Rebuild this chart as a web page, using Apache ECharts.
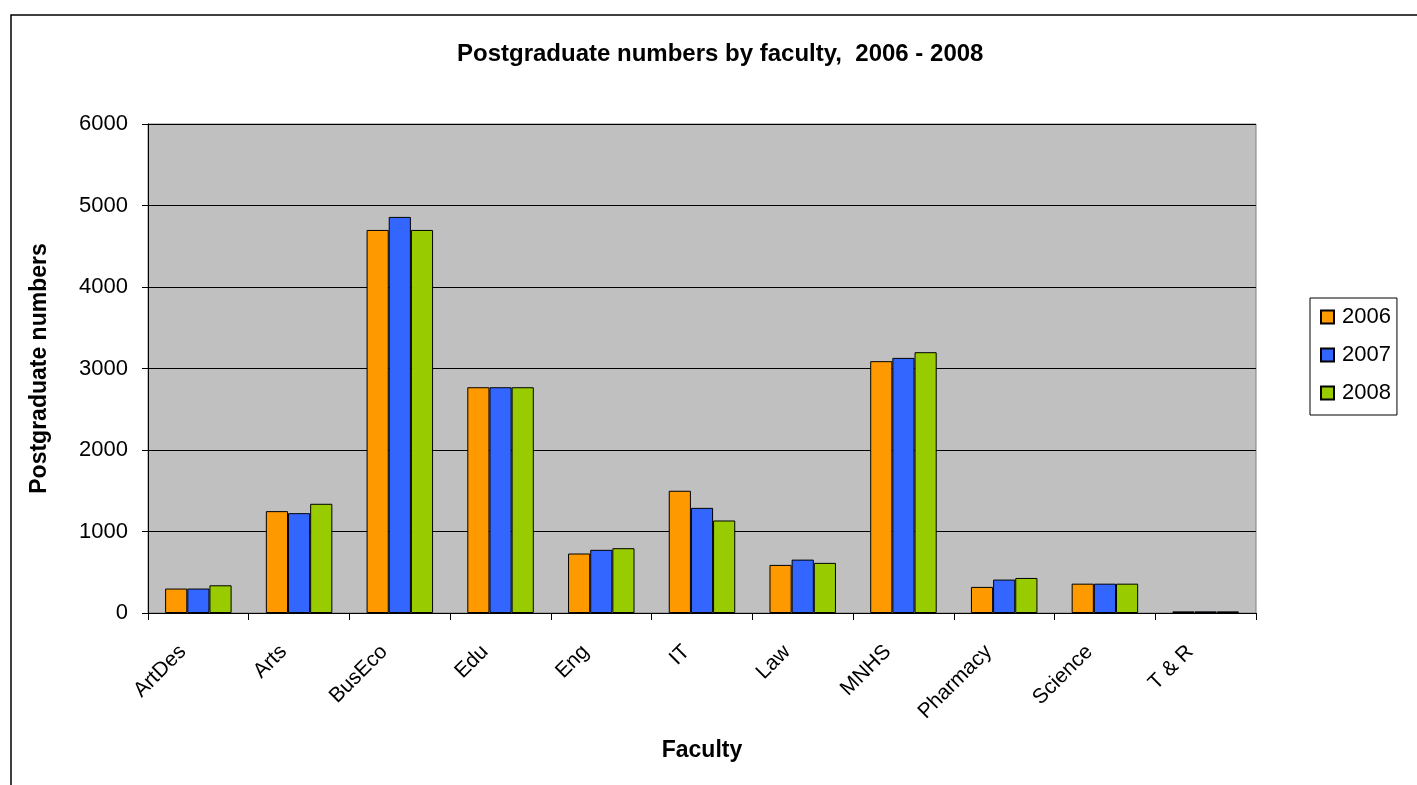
<!DOCTYPE html>
<html>
<head>
<meta charset="utf-8">
<title>Postgraduate numbers by faculty</title>
<script src="https://cdn.jsdelivr.net/npm/echarts@6/dist/echarts.min.js"></script>
<style>
	html, body { margin: 0; padding: 0; background: #fff; }
	#chart { width: 1417px; height: 785px; }
</style>
</head>
<body>
<div id="chart"></div>
<script>
"use strict";

/*****Data start*****/
var faculties = ["ArtDes", "Arts", "BusEco", "Edu", "Eng", "IT", "Law", "MNHS", "Pharmacy", "Science", "T & R"];
var years = ["2006", "2007", "2008"];
var pg2006 = [300, 1250, 4700, 2770, 730, 1500, 590, 3090, 320, 360, 20];
var pg2007 = [300, 1225, 4860, 2770, 775, 1290, 655, 3130, 410, 360, 20];
var pg2008 = [340, 1340, 4700, 2770, 795, 1135, 615, 3200, 430, 360, 20];
var yTicks = [0, 1000, 2000, 3000, 4000, 5000, 6000];
/*****Data end*****/

var colors = ['#FF9900', '#3366FF', '#99CC00'];
var font = "'Liberation Sans', Arial, sans-serif";

/*****E-Charts function start*****/
var echartsConfig = function() {
	var chart = echarts.init(document.getElementById('chart'));
	var seriesData = [pg2006, pg2007, pg2008];
	var series = years.map(function (y, i) {
		return {
			name: y,
			type: 'bar',
			barGap: '0%',
			barCategoryGap: '34%',
			data: seriesData[i],
			itemStyle: {
				color: colors[i],
				borderColor: '#000',
				borderWidth: 1
			}
		};
	});

	var option = {
		animation: false,
		color: colors,
		textStyle: { fontFamily: font },
		title: {
			text: 'Postgraduate numbers by faculty,  2006 - 2008',
			left: 457,
			top: 42,
			padding: 0,
			textStyle: {
				fontFamily: font,
				fontSize: 24,
				fontWeight: 'bold',
				color: '#000'
			}
		},
		graphic: [{
			type: 'rect',
			z: -10,
			shape: { x: 11, y: 15, width: 1500, height: 900 },
			style: { fill: 'none', stroke: '#000', lineWidth: 1.5 }
		}],
		legend: {
			orient: 'vertical',
			left: 1310,
			top: 298,
			padding: [8, 6, 11, 10],
			itemGap: 16,
			itemWidth: 13,
			itemHeight: 13,
			icon: 'rect',
			borderColor: '#000',
			borderWidth: 1,
			backgroundColor: '#fff',
			data: years,
			textStyle: {
				fontFamily: font,
				fontSize: 22,
				color: '#000',
				lineHeight: 22,
				padding: [0, 0, 0, 3]
			}
		},
		grid: {
			show: true,
			left: 148,
			right: 161,
			top: 124,
			bottom: 172,
			backgroundColor: '#C0C0C0',
			borderColor: '#808080',
			borderWidth: 1
		},
		xAxis: {
			type: 'category',
			data: faculties,
			name: 'Faculty',
			nameLocation: 'middle',
			nameGap: 126,
			nameTextStyle: {
				fontFamily: font,
				fontSize: 23,
				fontWeight: 'bold',
				color: '#000'
			},
			axisLine: { lineStyle: { color: '#000', width: 1 } },
			axisTick: { show: true, length: 7, lineStyle: { color: '#000' } },
			axisLabel: {
				rotate: 45,
				margin: 20,
				padding: [0, 22, 0, 0],
				fontFamily: font,
				fontSize: 21,
				color: '#000'
			}
		},
		yAxis: {
			type: 'value',
			min: yTicks[0],
			max: yTicks[yTicks.length - 1],
			interval: 1000,
			name: 'Postgraduate numbers',
			nameLocation: 'middle',
			nameGap: 97,
			nameTextStyle: {
				fontFamily: font,
				fontSize: 23,
				fontWeight: 'bold',
				color: '#000'
			},
			axisLine: { show: true, lineStyle: { color: '#000', width: 1 } },
			axisTick: { show: true, length: 6, lineStyle: { color: '#000' } },
			axisLabel: {
				margin: 20,
				fontFamily: font,
				fontSize: 22,
				color: '#000',
				formatter: function (v) { return String(v); }
			},
			splitLine: { show: true, lineStyle: { color: '#000', width: 1 } }
		},
		series: series
	};

	chart.setOption(option);
};
/*****E-Charts function end*****/

echartsConfig();
</script>
</body>
</html>
